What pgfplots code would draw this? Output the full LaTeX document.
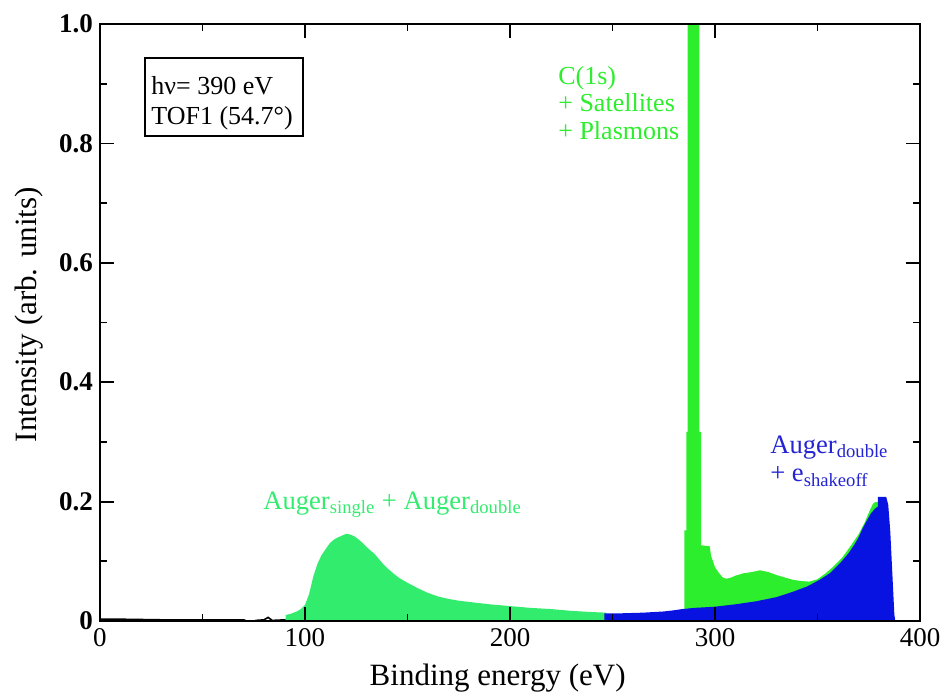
\documentclass[border=0pt]{standalone}
\usepackage{pgfplots}
\pgfplotsset{compat=1.18}
\usepackage{fontspec}
\setmainfont{Liberation Serif}

\definecolor{mint}{RGB}{50,236,110}
\definecolor{cgreen}{RGB}{44,238,44}
\definecolor{sblue}{RGB}{8,18,225}
\definecolor{lblue}{RGB}{36,36,210}

\begin{document}
\begin{tikzpicture}
\useasboundingbox (-50pt,-36pt) rectangle (420.5pt,310.5pt);
\begin{axis}[
  at={(0,0)}, anchor=south west,
  width=410pt, height=298.5pt, scale only axis,
  xmin=0, xmax=400, ymin=0, ymax=1,
  xtick={0,100,200,300,400},
  minor xtick={50,150,250,350},
  ytick={0,0.2,0.4,0.6,0.8,1.0},
  yticklabels={0,0.2,0.4,0.6,0.8,1.0},
  minor ytick={0.1,0.3,0.5,0.7,0.9},
  tick align=inside,
  major tick length=7pt, minor tick length=3.5pt,
  tick style={black, line width=0.9pt},
  axis line style={line width=1pt},
  axis on top,
  /pgf/number format/assume math mode=true,
  xticklabel style={font=\fontsize{13.5}{16}\selectfont},
  yticklabel style={font=\fontsize{13.5}{16}\selectfont\bfseries},
  xlabel={Binding energy (eV)},
  ylabel={Intensity (arb. units)},
  label style={font=\fontsize{15.5}{18}\selectfont},
  xlabel style={at={(axis description cs:0.485,0)}, anchor=base, yshift=-32pt},
  ylabel style={at={(axis description cs:-0.077,0.513)}, anchor=base, rotate=0},
]

% Auger single + double hump
\addplot[fill=mint, draw=none] coordinates {
 (90.5,0) (90.5,0.010) (93,0.012) (96,0.016) (98,0.020) (100,0.027)
 (102,0.045) (104,0.074) (106,0.095) (108,0.110) (110,0.120) (112,0.130)
 (114,0.136) (116,0.140) (118,0.143) (120,0.146) (122,0.145) (124,0.142)
 (126,0.137) (128,0.131) (130,0.124) (132,0.118) (134,0.112) (136,0.104)
 (138,0.096) (140,0.089) (143,0.080) (146,0.072) (150,0.064) (155,0.055)
 (160,0.047) (165,0.041) (170,0.037) (175,0.034) (180,0.032) (190,0.028)
 (200,0.025) (210,0.022) (220,0.020) (230,0.017) (240,0.015) (247,0.014)
 (247,0)
} \closedcycle;

% low-energy baseline
\addplot[black, line width=0.8pt] coordinates {
 (0,0.003) (10,0.003) (30,0.002) (50,0.002) (70,0.002) (74,-0.003)
 (76,0.001) (80,0.002) (82,0.006) (84,0.001) (90.5,0.002)
};

% C(1s) + satellites + plasmons
\addplot[fill=cgreen, draw=none] coordinates {
 (284,0) (284,0.020) (285,0.020) (285,0.152) (286,0.152) (286,0.317)
 (286.6,0.317) (286.6,1.05) (292.4,1.05) (292.4,0.317) (293.2,0.317)
 (293.2,0.127) (297.5,0.125) (298,0.110) (300,0.090) (302,0.080)
 (304,0.072) (306,0.071) (308,0.073) (310,0.076) (314,0.080) (318,0.082)
 (322,0.085) (326,0.082) (330,0.077) (334,0.073) (338,0.069) (342,0.067)
 (346,0.066) (350,0.070) (354,0.080) (358,0.092) (362,0.106) (366,0.125)
 (370,0.145) (373,0.165) (375.6,0.186) (377,0.196) (378,0.199) (381,0.199)
 (381,0)
} \closedcycle;

% Auger double + shake-off electron
\addplot[fill=sblue, draw=none] coordinates {
 (246,0) (246,0.013) (255,0.013) (265,0.014) (275,0.016) (280,0.018)
 (284,0.020) (290,0.022) (300,0.024) (310,0.028) (320,0.033) (330,0.040)
 (338,0.049) (345,0.058) (351,0.069) (356,0.080) (361,0.097) (365,0.113)
 (368,0.128) (370,0.140) (372,0.155) (374,0.168) (376,0.180) (378,0.188)
 (379.5,0.192) (379.5,0.208) (383.5,0.208) (384.5,0.195) (385.5,0.150)
 (386.5,0.080) (387.5,0.010) (388,0)
} \closedcycle;

% annotations
\draw[line width=0.8pt] (axis cs:21.95,0.943) rectangle (axis cs:99,0.8124);
\node[anchor=base west, inner sep=0pt, font=\fontsize{13}{15}\selectfont]
  at (axis cs:24.9,0.8827) {hν= 390 eV};
\node[anchor=base west, inner sep=0pt, font=\fontsize{13}{15}\selectfont]
  at (axis cs:24.9,0.8325) {TOF1 (54.7°)};

\node[anchor=base west, inner sep=0pt, text=cgreen, font=\fontsize{13}{15}\selectfont]
  at (axis cs:223.4,0.899) {C(1s)};
\node[anchor=base west, inner sep=0pt, text=cgreen, font=\fontsize{13}{15}\selectfont]
  at (axis cs:223.4,0.853) {+ Satellites};
\node[anchor=base west, inner sep=0pt, text=cgreen, font=\fontsize{13}{15}\selectfont]
  at (axis cs:223.4,0.807) {+ Plasmons};

\node[anchor=base west, inner sep=0pt, text=mint, font=\fontsize{13.3}{15}\selectfont]
  at (axis cs:79.5,0.1876) {Auger\textsubscript{single} + Auger\textsubscript{double}};

\node[anchor=base west, inner sep=0pt, text=lblue, font=\fontsize{13.3}{15}\selectfont]
  at (axis cs:326.8,0.281) {Auger\textsubscript{double}};
\node[anchor=base west, inner sep=0pt, text=lblue, font=\fontsize{13.3}{15}\selectfont]
  at (axis cs:326.8,0.233) {+ e\textsubscript{shakeoff}};

\end{axis}
\end{tikzpicture}
\end{document}
